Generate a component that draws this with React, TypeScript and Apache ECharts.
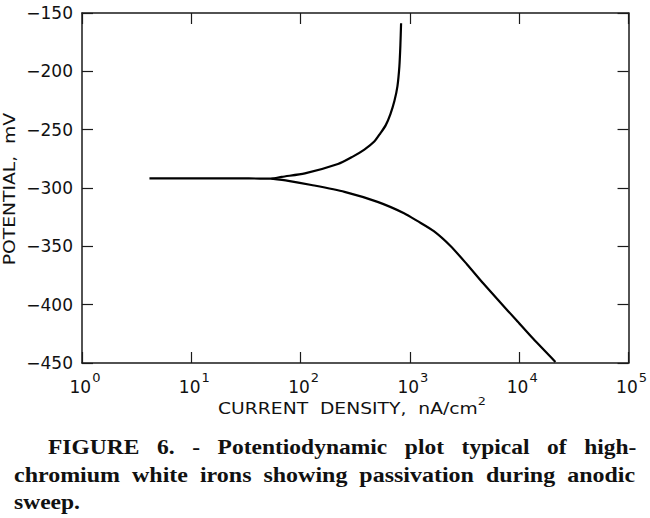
import React, { useEffect, useRef } from "react";
import * as echarts from "echarts";

// Anodic branch (passivation) — current density nA/cm², potential mV
const anodicCurrent = [4.14, 11.8, 33.5, 54.1, 67.1, 109.4, 219.4, 300, 383, 472, 538, 601, 663, 721, 769, 801, 818, 830];
const anodicPotential = [-291.8, -291.8, -291.8, -292.0, -290.4, -287.5, -279.5, -273.1, -267.1, -260.2, -252.9, -246.1, -236.6, -225.5, -212.6, -195.5, -177.5, -158.8];

// Cathodic branch
const cathodicCurrent = [54.1, 77.2, 125.6, 252.3, 505.8, 883.6, 1167, 1654, 2339, 3319, 4701, 6653, 9436, 13370, 21430];
const cathodicPotential = [-292.0, -293.9, -297.4, -303.3, -311.9, -321.6, -328.2, -337.0, -349.5, -365.3, -381.9, -397.7, -413.4, -429.1, -449.1];

const yTicks = [-450, -400, -350, -300, -250, -200, -150];
const xDecades = [1, 10, 100, 1000, 10000, 100000];

const xTitle = "CURRENT  DENSITY,  nA/cm";
const yTitle = "POTENTIAL,  mV";
const captionLines = [
  "FIGURE   6.   -   Potentiodynamic   plot   typical   of   high-",
  "chromium  white  irons  showing  passivation  during  anodic",
  "sweep.",
];
const captionX = [48, 14, 14];
const captionScale = [1.068, 1.09, 1.07];

const AXIS_COLOR = "#1a1a1a";
const SANS = "DejaVu Sans";
const SERIF = "Liberation Serif";

export default function App() {
  const ref = useRef<HTMLDivElement>(null);

  useEffect(() => {
    document.body.style.margin = "0";
    if (!ref.current) return;
    const chart = echarts.init(ref.current, undefined, { renderer: "svg" });

    const zip = (xs: number[], ys: number[]) => xs.map((x, i) => [x, ys[i]]);

    const logLabel = (v: number) => {
      const e = Math.round(Math.log10(v));
      return `{b|10}{s|${e}}`;
    };

    const axisLine = { show: true, lineStyle: { color: AXIS_COLOR, width: 1.5 } };
    const axisTick = { show: true, inside: true, length: 11, lineStyle: { color: AXIS_COLOR, width: 1.2 } };

    const option: echarts.EChartsOption = {
      animation: false,
      backgroundColor: "#ffffff",
      grid: { left: 82, right: 17, top: 13, bottom: 155, containLabel: false },
      xAxis: [
        {
          type: "log",
          logBase: 10,
          min: xDecades[0],
          max: xDecades[xDecades.length - 1],
          position: "bottom",
          axisLine,
          axisTick,
          minorTick: { show: false },
          splitLine: { show: false },
          axisLabel: {
            margin: 8,
            formatter: logLabel,
            rich: {
              b: { fontFamily: SANS, fontSize: 17, color: "#111", lineHeight: 24, verticalAlign: "bottom", padding: [0, 0, 0, 6] },
              s: { fontFamily: SANS, fontSize: 13, color: "#111", verticalAlign: "top", padding: [0, 0, 0, 1] },
            },
          },
        },
        {
          type: "log",
          logBase: 10,
          min: xDecades[0],
          max: xDecades[xDecades.length - 1],
          position: "top",
          axisLine,
          axisTick,
          splitLine: { show: false },
          axisLabel: { show: false },
        },
      ],
      yAxis: [
        {
          type: "value",
          min: yTicks[0],
          max: yTicks[yTicks.length - 1],
          interval: 50,
          position: "left",
          axisLine,
          axisTick,
          splitLine: { show: false },
          axisLabel: {
            margin: 9,
            fontFamily: SANS,
            fontSize: 17,
            color: "#111",
            formatter: (v: number) => (v < 0 ? "\u2212" + Math.abs(v) : String(v)),
          },
        },
        {
          type: "value",
          min: yTicks[0],
          max: yTicks[yTicks.length - 1],
          interval: 50,
          position: "right",
          axisLine,
          axisTick,
          splitLine: { show: false },
          axisLabel: { show: false },
        },
      ],
      series: [
        {
          type: "line",
          name: "anodic",
          data: zip(anodicCurrent, anodicPotential),
          showSymbol: false,
          smooth: 0.25,
          lineStyle: { color: "#000", width: 2.2 },
        },
        {
          type: "line",
          name: "cathodic",
          data: zip(cathodicCurrent, cathodicPotential),
          showSymbol: false,
          smooth: 0.25,
          lineStyle: { color: "#000", width: 2.2 },
        },
      ],
      graphic: [
        {
          type: "text",
          x: 352,
          y: 406,
          scaleX: 1.17,
          style: {
            text: `{a|${xTitle}}{s|2}`,
            align: "center",
            verticalAlign: "middle",
            rich: {
              a: { fontFamily: SANS, fontSize: 16, fill: "#111", lineHeight: 21, verticalAlign: "bottom" },
              s: { fontFamily: SANS, fontSize: 11, fill: "#111", verticalAlign: "top" },
            },
          },
        },
        {
          type: "text",
          x: 9,
          y: 189,
          rotation: Math.PI / 2,
          scaleX: 1.17,
          style: {
            text: yTitle,
            font: `16px "${SANS}"`,
            fill: "#111",
            align: "center",
            verticalAlign: "middle",
          },
        },
        ...captionLines.map((line, i) => ({
          type: "text" as const,
          x: captionX[i],
          y: 447 + i * 27.5,
          scaleX: captionScale[i],
          style: {
            text: line,
            font: `bold 22px "${SERIF}"`,
            fill: "#111",
            align: "left" as const,
            verticalAlign: "middle" as const,
          },
        })),
      ],
    };

    chart.setOption(option);
    return () => chart.dispose();
  }, []);

  return <div ref={ref} style={{ width: 650, height: 518 }} />;
}
